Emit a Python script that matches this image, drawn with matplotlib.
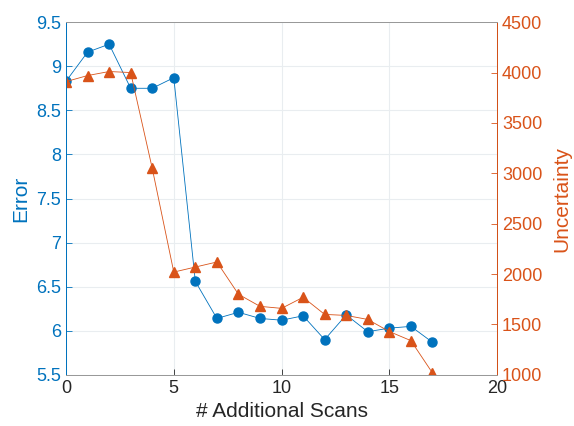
import matplotlib.pyplot as plt
import numpy as np

plt.rcParams['font.family'] = ['Liberation Sans', 'DejaVu Sans']

# Data
scans = list(range(18))
error = [8.83, 9.16, 9.25, 8.75, 8.75, 8.87, 6.56, 6.14, 6.21, 6.14,
         6.12, 6.17, 5.90, 6.18, 5.99, 6.03, 6.05, 5.87]
uncertainty = [3910, 3970, 4010, 4000, 3050, 2020, 2070, 2120, 1800, 1680,
               1660, 1770, 1600, 1590, 1550, 1430, 1340, 1020]

blue = "#0072BD"
orange = "#D95319"
axis_gray = "#262626"

fig = plt.figure(figsize=(5.74, 4.26), dpi=100)
ax = fig.add_axes([0.115, 0.12, 0.751, 0.828])
ax2 = ax.twinx()

# Left axis: error
ax.plot(scans, error, color=blue, marker="o", markersize=6.5, linewidth=0.6)
ax.set_xlim(0, 20)
ax.set_ylim(5.5, 9.5)
ax.set_xticks([0, 5, 10, 15, 20])
ax.set_yticks(np.arange(5.5, 9.51, 0.5))
ax.set_yticklabels(["5.5", "6", "6.5", "7", "7.5", "8", "8.5", "9", "9.5"])
ax.set_xlabel("# Additional Scans", fontsize=15, color=axis_gray)
ax.set_ylabel("Error", fontsize=15, color=blue, labelpad=4)
ax.grid(True, color="#e9edf0", linewidth=0.8)
ax.set_axisbelow(True)

# Right axis: uncertainty
ax2.plot(scans, uncertainty, color=orange, marker="^", markersize=7, linewidth=0.6)
ax2.set_ylim(1000, 4500)
ax2.set_yticks(np.arange(1000, 4501, 500))
ax2.set_ylabel("Uncertainty", fontsize=15, color=orange, labelpad=7)

# MATLAB-like styling
for a in (ax, ax2):
    a.tick_params(direction="in", length=4, width=0.6, labelsize=13)
ax.tick_params(axis="x", colors=axis_gray)
ax.tick_params(axis="y", colors=blue)
ax2.tick_params(axis="y", colors=orange)
ax.spines["left"].set_color(blue)
ax2.spines["left"].set_color(blue)
ax2.spines["right"].set_color(orange)
for a in (ax, ax2):
    a.spines["bottom"].set_color("#999999")
    a.spines["top"].set_color("#999999")
    for s in a.spines.values():
        s.set_linewidth(0.7)

fig.savefig("out.png", dpi=100)
